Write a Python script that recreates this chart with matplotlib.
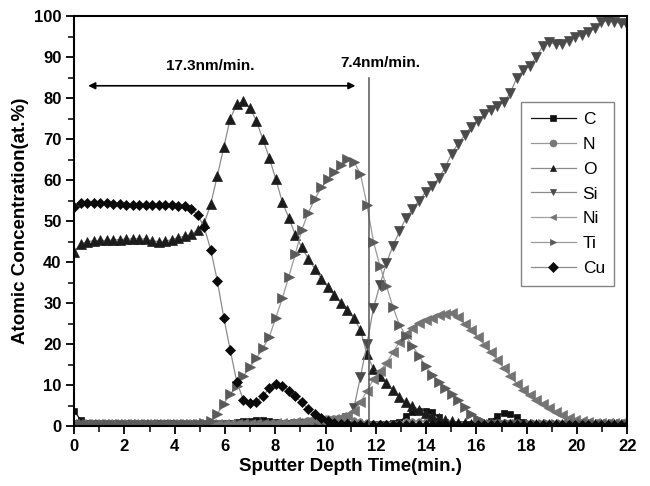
import numpy as np
import matplotlib
matplotlib.use('Agg')
import matplotlib.pyplot as plt

plt.rcParams['font.family'] = ['Liberation Sans', 'DejaVu Sans']

# sputter time grid (min.), one reading per cycle
time = np.linspace(0, 22, 86)

C = [3.8, 1.5, 0.8, 0.5, 0.5, 0.5, 0.5, 0.5, 0.5, 0.5,
     0.5, 0.5, 0.6, 0.8, 0.9, 0.8, 0.5, 0.5, 0.5, 0.5,
     0.5, 0.5, 0.5, 0.5, 0.7, 1.0, 1.2, 1.3, 1.4, 1.4,
     1.2, 1.0, 0.8, 0.8, 0.8, 0.8, 0.7, 0.7, 0.7, 0.7,
     0.7, 0.6, 0.6, 0.6, 0.6, 0.6, 0.6, 0.6, 0.6, 0.7,
     1.0, 2.5, 3.4, 3.6, 3.7, 3.4, 2.2, 1.0, 0.6, 0.6,
     0.6, 0.6, 0.6, 0.6, 1.2, 2.5, 3.2, 3.0, 2.2, 1.0,
     0.5, 0.5, 0.5, 0.5, 0.5, 0.5, 0.5, 0.5, 0.5, 0.5,
     0.5, 0.5, 0.5, 0.5, 0.5, 0.5]

N = [0.3, 0.3, 0.3, 0.3, 0.3, 0.3, 0.3, 0.3, 0.3, 0.3,
     0.3, 0.3, 0.3, 0.3, 0.3, 0.3, 0.3, 0.3, 0.3, 0.3,
     0.3, 0.3, 0.3, 0.3, 0.3, 0.3, 0.3, 0.4, 0.4, 0.4,
     0.5, 0.5, 0.6, 0.8, 1.0, 1.2, 1.4, 1.6, 1.8, 2.0,
     2.1, 2.0, 1.8, 1.5, 1.2, 1.0, 0.9, 0.8, 0.8, 0.8,
     0.8, 1.2, 1.3, 1.3, 1.3, 1.2, 1.2, 0.5, 0.5, 0.5,
     0.5, 0.5, 0.5, 0.5, 1.0, 1.0, 1.1, 1.0, 1.0, 0.4,
     0.4, 0.4, 0.4, 0.4, 0.4, 0.4, 0.4, 0.4, 0.4, 0.4,
     0.4, 0.4, 0.4, 0.4, 0.4, 0.4]

O = [42.5, 44.5, 45.0, 45.2, 45.3, 45.3, 45.4, 45.5, 45.6, 45.7,
     45.7, 45.6, 45.2, 45.0, 45.1, 45.5, 46.0, 46.3, 46.8, 47.8,
     49.5, 54.2, 61.0, 68.0, 75.0, 78.5, 79.2, 77.6, 74.5, 70.0,
     65.4, 60.2, 54.6, 50.8, 46.6, 43.6, 40.8, 38.4, 36.0, 33.9,
     31.9, 30.1, 28.4, 26.3, 23.5, 17.5, 14.0, 12.3, 10.5, 8.8,
     7.2, 6.0, 5.0, 4.0, 3.2, 2.6, 2.0, 1.6, 1.2, 0.9,
     0.7, 0.6, 0.5, 0.5, 0.5, 0.5, 0.5, 0.5, 0.5, 0.5,
     0.5, 0.5, 0.5, 0.5, 0.5, 0.5, 0.5, 0.5, 0.5, 0.5,
     0.5, 0.5, 0.5, 0.5, 0.5, 0.5]

Si = [0.3, 0.3, 0.3, 0.3, 0.3, 0.3, 0.3, 0.3, 0.3, 0.3,
      0.3, 0.3, 0.3, 0.3, 0.3, 0.3, 0.3, 0.3, 0.3, 0.3,
      0.3, 0.3, 0.3, 0.3, 0.3, 0.3, 0.3, 0.3, 0.3, 0.3,
      0.3, 0.3, 0.4, 0.4, 0.5, 0.5, 0.6, 0.6, 0.7, 0.8,
      0.9, 1.2, 2.0, 4.5, 12.0, 20.0, 28.8, 34.5, 39.8, 44.0,
      47.5, 50.8, 53.0, 55.0, 57.0, 58.6, 60.4, 63.0, 66.4, 68.9,
      70.9, 73.0, 74.5, 76.0, 77.2, 78.0, 79.0, 81.2, 84.8, 86.8,
      87.9, 90.0, 92.6, 93.7, 93.1, 93.1, 94.0, 94.8, 95.3, 96.0,
      97.0, 98.5, 98.9, 98.6, 98.2, 97.8]

Ni = [0.5, 0.5, 0.5, 0.5, 0.5, 0.5, 0.5, 0.5, 0.5, 0.5,
      0.5, 0.5, 0.5, 0.5, 0.5, 0.5, 0.5, 0.5, 0.5, 0.5,
      0.5, 0.5, 0.5, 0.5, 0.5, 0.5, 0.5, 0.5, 0.5, 0.5,
      0.6, 0.7, 0.8, 0.9, 1.0, 1.1, 1.3, 1.4, 1.5, 1.6,
      1.8, 2.2, 2.8, 3.8, 5.8, 8.6, 11.4, 13.4, 15.5, 18.0,
      20.6, 22.6, 24.0, 25.1, 25.9, 26.5, 27.0, 27.4, 27.7, 26.6,
      25.0, 23.4, 21.7, 19.9, 18.0, 16.2, 14.2, 12.3, 10.4, 8.9,
      7.6, 6.4, 5.4, 4.4, 3.5, 2.7, 2.1, 1.6, 1.2, 1.0,
      0.9, 0.8, 0.8, 0.8, 0.8, 0.8]

Ti = [0.5, 0.5, 0.5, 0.5, 0.5, 0.5, 0.5, 0.5, 0.5, 0.5,
      0.5, 0.5, 0.5, 0.5, 0.5, 0.5, 0.5, 0.5, 0.5, 0.5,
      0.7, 1.3, 3.0, 5.5, 7.8, 9.8, 12.2, 14.4, 16.6, 19.0,
      21.8, 26.5, 31.2, 36.5, 42.0, 47.9, 52.1, 55.4, 58.2, 60.2,
      62.0, 63.8, 65.1, 64.5, 61.5, 54.0, 45.0, 39.0, 34.2, 29.0,
      24.7, 22.0, 19.6, 17.2, 14.7, 12.6, 10.9, 9.4, 7.8, 6.3,
      4.6, 3.0, 1.8, 1.0, 0.6, 0.5, 0.5, 0.5, 0.5, 0.5,
      0.5, 0.5, 0.5, 0.5, 0.5, 0.5, 0.5, 0.5, 0.5, 0.5,
      0.5, 0.5, 0.5, 0.5, 0.5, 0.5]

Cu = [53.5, 54.3, 54.5, 54.5, 54.4, 54.3, 54.2, 54.1, 54.0, 54.0,
      54.0, 54.0, 53.9, 54.0, 54.0, 53.9, 53.8, 53.6, 53.0, 51.5,
      48.5, 43.0, 35.5, 26.5, 18.5, 10.8, 6.5, 5.6, 5.9, 7.4,
      9.2, 10.3, 9.9, 8.7, 7.3, 5.8, 4.1, 2.9, 2.0, 1.3,
      0.8, 0.6, 0.5, 0.4, 0.4, 0.4, 0.4, 0.4, 0.4, 0.4,
      0.4, 0.4, 0.4, 0.4, 0.4, 0.4, 0.4, 0.4, 0.4, 0.4,
      0.4, 0.4, 0.4, 0.4, 0.4, 0.4, 0.4, 0.4, 0.4, 0.4,
      0.4, 0.4, 0.4, 0.4, 0.4, 0.4, 0.4, 0.4, 0.4, 0.4,
      0.4, 0.4, 0.4, 0.4, 0.4, 0.4]

series = [
    ('C', C, 's', '#111111', '#111111', 4),
    ('N', N, 'o', '#777777', '#999999', 4),
    ('O', O, '^', '#1c1c1c', '#8c8c8c', 7),
    ('Si', Si, 'v', '#4a4a4a', '#8c8c8c', 7),
    ('Ni', Ni, '<', '#747474', '#a0a0a0', 7),
    ('Ti', Ti, '>', '#5a5a5a', '#9a9a9a', 7),
    ('Cu', Cu, 'D', '#0a0a0a', '#8c8c8c', 5.5),
]

fig = plt.figure(figsize=(6.5, 4.86), dpi=100)
ax = fig.add_axes([0.114, 0.123, 0.851, 0.844])

for name, vals, mk, mcol, lcol, ms in series:
    ax.plot(time, vals, color=lcol, lw=0.9, marker=mk, markersize=ms,
            markerfacecolor=mcol, markeredgecolor=mcol, markeredgewidth=0.5,
            label=name)

ax.set_xlim(0, 22)
ax.set_ylim(0, 100)
ax.set_xticks(np.arange(0, 23, 2))
ax.set_xticks(np.arange(1, 22, 2), minor=True)
ax.set_yticks(np.arange(0, 101, 10))
ax.set_yticks(np.arange(5, 100, 10), minor=True)
ax.tick_params(which='major', direction='out', length=6, width=1.3,
               labelsize=12, top=False, right=False, pad=3)
ax.tick_params(which='minor', direction='out', length=4, width=1.1,
               top=False, right=False)
for lab in ax.get_xticklabels() + ax.get_yticklabels():
    lab.set_fontweight('bold')
for sp in ax.spines.values():
    sp.set_linewidth(1.5)

ax.set_xlabel('Sputter Depth Time(min.)', fontsize=13.5, fontweight='bold', labelpad=3)
ax.set_ylabel('Atomic Concentration(at.%)', fontsize=13.5, fontweight='bold', labelpad=4)

# sputter rate annotations
ax.annotate('', xy=(0.45, 83), xytext=(11.3, 83),
            arrowprops=dict(arrowstyle='<|-|>', color='black', lw=1.2,
                            mutation_scale=10))
ax.text(5.4, 86.0, '17.3nm/min.', fontsize=11, fontweight='bold', ha='center', va='bottom')
ax.plot([11.72, 11.72], [0, 85], color='#555555', lw=1.1)
ax.text(12.2, 86.8, '7.4nm/min.', fontsize=11, fontweight='bold', ha='center', va='bottom')

leg = ax.legend(loc='upper left', bbox_to_anchor=(0.808, 0.79), fontsize=12.5,
                frameon=True, fancybox=False, borderpad=0.55, labelspacing=0.56,
                handlelength=2.6, handletextpad=0.4, borderaxespad=0)
leg.get_frame().set_edgecolor('#666666')
leg.get_frame().set_linewidth(1.0)
for h in leg.legend_handles:
    h.set_markersize(5)

fig.savefig('out.png', dpi=100)
